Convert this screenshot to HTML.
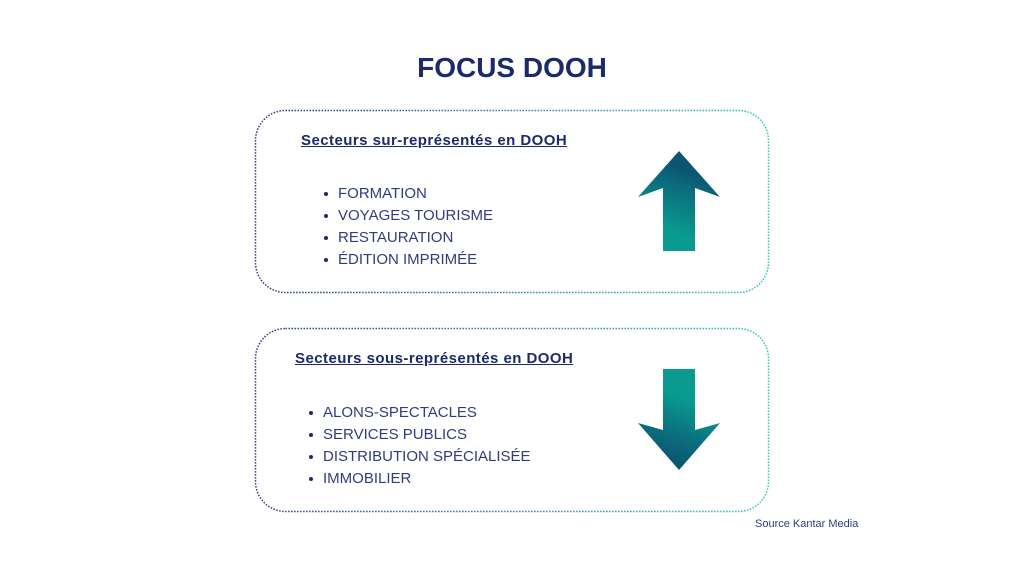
<!DOCTYPE html>
<html><head><meta charset="utf-8"><style>
body{margin:0;width:1024px;height:576px;background:#fff;position:relative;overflow:hidden;font-family:"Liberation Sans",sans-serif;color:#1c2a6b}
.t{position:absolute;white-space:nowrap}
.h{font-weight:bold;font-size:15px;letter-spacing:0.45px;text-decoration:underline;color:#1c2a6b}
.i{font-size:15px;color:#2f3d7a}
.b{position:absolute;width:4px;height:4px;border-radius:50%;background:#1c2a6b}
</style></head><body>
<svg width="1024" height="576" style="position:absolute;left:0;top:0">
<defs>
<linearGradient id="g" x1="0" x2="1" y1="0" y2="0"><stop offset="0" stop-color="#2a3a7a"/><stop offset="1" stop-color="#2cc7b8"/></linearGradient>
<linearGradient id="a1" x1="0" y1="1" x2="0.3" y2="0"><stop offset="0.3" stop-color="#0a9a8f"/><stop offset="0.7" stop-color="#0b6f7e"/><stop offset="0.9" stop-color="#0b5672"/></linearGradient>
<linearGradient id="a2" x1="0.3" y1="0" x2="0" y2="1"><stop offset="0.2" stop-color="#0a9a8f"/><stop offset="0.55" stop-color="#0b6f7e"/><stop offset="0.8" stop-color="#0b5672"/></linearGradient>
</defs>
<rect x="255.5" y="110.5" width="513" height="182" rx="30" fill="none" stroke="url(#g)" stroke-width="1.5" stroke-dasharray="1.5 1.5"/>
<rect x="255.5" y="328.5" width="513" height="183" rx="30" fill="none" stroke="url(#g)" stroke-width="1.5" stroke-dasharray="1.5 1.5"/>
<polygon points="679,151 720,197 695,188 695,251 663,251 663,188 638,197" fill="url(#a1)"/>
<polygon points="663,369 695,369 695,430 720,423 679,470 638,423 663,430" fill="url(#a2)"/>
</svg>
<div class="t" style="left:0;width:1024px;text-align:center;top:52px;font-size:28px;font-weight:bold;color:#1a2a6c">FOCUS DOOH</div>
<div class="t h" style="left:301px;top:132px">Secteurs sur-représentés en DOOH</div>
<div class="b" style="left:324px;top:192px"></div><div class="t i" style="left:338px;top:185px">FORMATION</div>
<div class="b" style="left:324px;top:214px"></div><div class="t i" style="left:338px;top:207px">VOYAGES TOURISME</div>
<div class="b" style="left:324px;top:236px"></div><div class="t i" style="left:338px;top:229px">RESTAURATION</div>
<div class="b" style="left:324px;top:258px"></div><div class="t i" style="left:338px;top:251px">ÉDITION IMPRIMÉE</div>
<div class="t h" style="left:295px;top:350px">Secteurs sous-représentés en DOOH</div>
<div class="b" style="left:309px;top:411px"></div><div class="t i" style="left:323px;top:404px">ALONS-SPECTACLES</div>
<div class="b" style="left:309px;top:433px"></div><div class="t i" style="left:323px;top:426px">SERVICES PUBLICS</div>
<div class="b" style="left:309px;top:455px"></div><div class="t i" style="left:323px;top:448px">DISTRIBUTION SPÉCIALISÉE</div>
<div class="b" style="left:309px;top:477px"></div><div class="t i" style="left:323px;top:470px">IMMOBILIER</div>
<div class="t" style="left:755px;top:518px;font-size:11px;color:#2f3d7a">Source Kantar Media</div>
</body></html>
